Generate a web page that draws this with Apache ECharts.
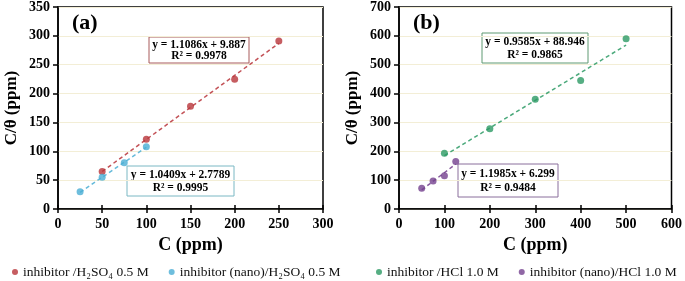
<!DOCTYPE html>
<html lang="en">
<head>
    <meta charset="UTF-8">
    <title>Langmuir plots</title>
    <script src="https://cdn.jsdelivr.net/npm/echarts@6/dist/echarts.min.js"></script>
</head>
<body style="margin:0;background:#fff;">
<div id="chart" style="width:685px;height:281px;"></div>
<script>
    // panel (a) - H2SO4 0.5 M
    const redPts = [[50, 65], [100, 121], [150, 178], [200, 225], [250, 291]];
    const bluePts = [[25, 30], [50, 55], [75, 80], [100, 108]];
    const redFit = [[50, 65], [250, 287]];
    const blueFit = [[25, 29], [100, 107]];
    // panel (b) - HCl 1.0 M
    const greenPts = [[100, 193], [200, 278], [300, 380], [400, 445], [500, 590]];
    const purplePts = [[50, 72], [75, 97], [100, 115], [125, 165]];
    const greenFit = [[100, 185], [500, 568]];
    const purpleFit = [[50, 66], [125, 156]];

    const names = ['inhibitor /H₂SO₄ 0.5 M', 'inhibitor (nano)/H₂SO₄ 0.5 M',
        'inhibitor /HCl 1.0 M', 'inhibitor (nano)/HCl 1.0 M'];
    const equations = [['y = 1.1086x + 9.887', 'R² = 0.9978'], ['y = 1.0409x + 2.7789', 'R² = 0.9995'],
        ['y = 0.9585x + 88.946', 'R² = 0.9865'], ['y = 1.1985x + 6.299', 'R² = 0.9484']];

    const colors = ['#b8343a', '#4aaed4', '#2c9a64', '#74418e'];
    const boxColors = ['#a85a5a', '#7ab8c4', '#5f9a72', '#8a6e9c'];
    const font = 'Liberation Serif';

    let myChart = echarts.init(document.getElementById('chart'));

    function xAxes(grid, max, interval) {
        return [
            {
                gridIndex: grid, type: 'value', min: 0, max: max, interval: interval,
                name: 'C (ppm)', nameLocation: 'middle', nameGap: 26,
                nameTextStyle: {fontFamily: font, fontWeight: 'bold', fontSize: 18, color: '#000'},
                axisLine: {lineStyle: {color: '#000', width: 1.5}},
                axisTick: {length: 4, lineStyle: {color: '#000', width: 1.5}},
                axisLabel: {fontFamily: font, fontWeight: 'bold', fontSize: 14, color: '#000', margin: 8},
                splitLine: {show: false}
            },
            {
                gridIndex: grid, type: 'value', min: 0, max: max, interval: interval, position: 'bottom',
                axisLine: {show: false},
                axisTick: {inside: true, length: 4, lineStyle: {color: '#000', width: 1.5}},
                axisLabel: {show: false},
                splitLine: {show: false}
            }
        ];
    }

    function yAxis(grid, max, interval) {
        return {
            gridIndex: grid, type: 'value', min: 0, max: max, interval: interval,
            name: 'C/θ (ppm)', nameLocation: 'middle', nameGap: 38,
            nameTextStyle: {fontFamily: font, fontWeight: 'bold', fontSize: 17, color: '#000'},
            axisLine: {show: true, lineStyle: {color: '#000', width: 1.5}},
            axisTick: {show: true, length: 5, lineStyle: {color: '#000', width: 1.5}},
            axisLabel: {fontFamily: font, fontWeight: 'bold', fontSize: 14, color: '#000', margin: 8},
            splitLine: {lineStyle: {color: '#f3eed6', width: 1}}
        };
    }

    function scatter(i, data, xi, yi) {
        return {
            name: names[i], type: 'scatter', data: data, xAxisIndex: xi, yAxisIndex: yi,
            symbolSize: 7, itemStyle: {color: colors[i]}, z: 3
        };
    }

    function fit(i, data, xi, yi) {
        return {
            type: 'line', data: data, xAxisIndex: xi, yAxisIndex: yi, symbol: 'none', silent: true,
            lineStyle: {color: colors[i], type: [4, 3], width: 1.5, opacity: 0.85}, z: 2
        };
    }

    // framed equation label, x/y = top-left corner
    function eqBox(i, x, y, w, h) {
        let txt = (s, dy) => ({
            type: 'text', x: w / 2, y: dy,
            style: {text: s, font: 'bold 11.5px ' + font, fill: '#000', align: 'center', verticalAlign: 'middle'}
        });
        return {
            type: 'group', x: x, y: y, z: 10,
            children: [
                {type: 'rect', shape: {x: 0, y: 0, width: w, height: h},
                    style: {fill: '#fff', stroke: boxColors[i], lineWidth: 1}},
                txt(equations[i][0], h * 0.3),
                txt(equations[i][1], h * 0.72)
            ]
        };
    }

    function legend(data, left, width) {
        return {
            data: data, left: left, top: 265, width: width, padding: 0, icon: 'circle',
            itemWidth: 6, itemHeight: 6, itemGap: 20,
            textStyle: {fontFamily: font, fontSize: 13.5, color: '#111'}
        };
    }

    option = {
        animation: false,
        grid: [
            {left: 58, right: 362, top: 6, bottom: 72, show: true, borderColor: '#000', borderWidth: 1.5},
            {left: 399, right: 12, top: 6, bottom: 72, show: true, borderColor: '#000', borderWidth: 1.5}
        ],
        xAxis: [...xAxes(0, 300, 50), ...xAxes(1, 600, 100)],
        yAxis: [yAxis(0, 350, 50), yAxis(1, 700, 100)],
        legend: [legend([names[0], names[1]], 12, 360), legend([names[2], names[3]], 376, 309)],
        graphic: [
            {type: 'text', left: 72, top: 12, style: {text: '(a)', font: 'bold 22px ' + font, fill: '#000'}},
            {type: 'text', left: 413, top: 12, style: {text: '(b)', font: 'bold 22px ' + font, fill: '#000'}},
            eqBox(0, 149, 37, 100, 26),
            eqBox(1, 127, 166, 107, 30),
            eqBox(2, 482, 33, 106, 30),
            eqBox(3, 458, 164, 100, 33)
        ],
        series: [
            fit(0, redFit, 0, 0), fit(1, blueFit, 0, 0),
            scatter(0, redPts, 0, 0), scatter(1, bluePts, 0, 0),
            fit(2, greenFit, 2, 1), fit(3, purpleFit, 2, 1),
            scatter(2, greenPts, 2, 1), scatter(3, purplePts, 2, 1)
        ]
    };
    myChart.setOption(option);
</script>
</body>
</html>
